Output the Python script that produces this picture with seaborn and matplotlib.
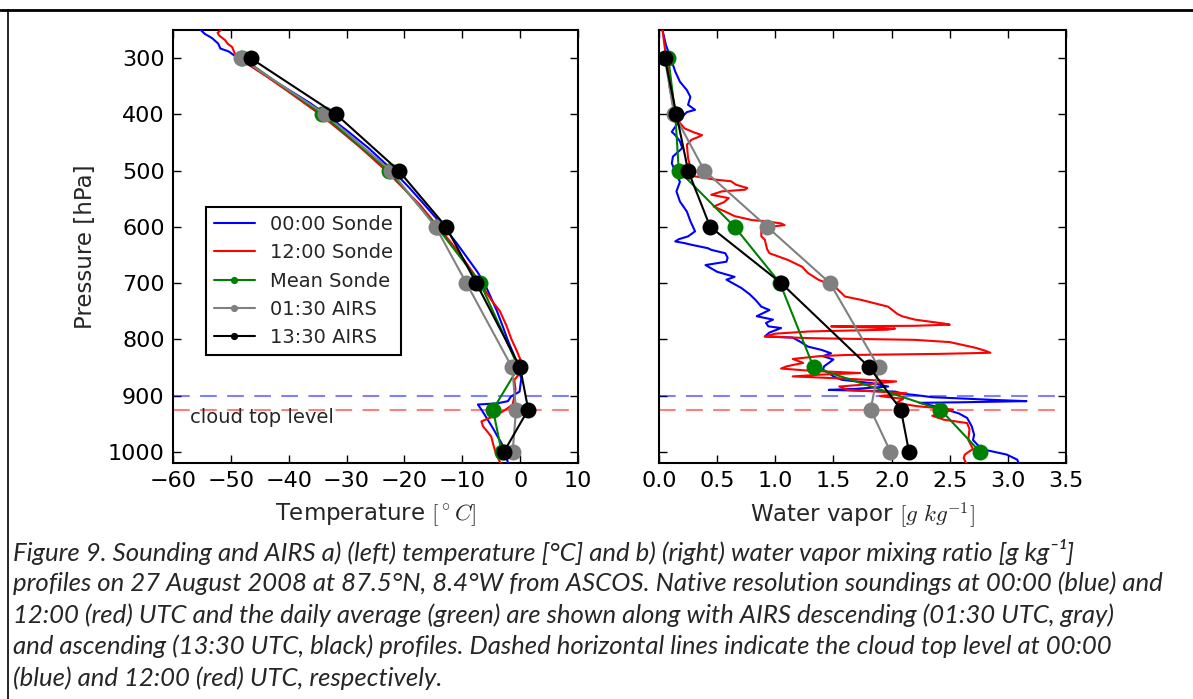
import numpy as np
import pandas as pd
import matplotlib
matplotlib.use("Agg")
import matplotlib.pyplot as plt
import seaborn as sns
from matplotlib.lines import Line2D

# ---------------- data ----------------
airs_p = [300, 400, 500, 600, 700, 850, 925, 1000]
# temperature [deg C]
t_mean = [-48.0, -34.2, -22.7, -14.4, -6.9, -0.3, -4.7, -3.2]
t_airs0130 = [-48.3, -33.7, -22.4, -14.6, -9.3, -1.4, -0.7, -1.3]
t_airs1330 = [-46.6, -31.8, -21.0, -12.8, -7.6, 0.0, 1.4, -2.8]
# water vapor [g/kg]
q_mean = [0.08, 0.14, 0.17, 0.65, 1.04, 1.33, 2.42, 2.76]
q_airs0130 = [0.05, 0.13, 0.39, 0.93, 1.47, 1.89, 1.82, 1.99]
q_airs1330 = [0.05, 0.15, 0.25, 0.44, 1.05, 1.81, 2.08, 2.15]

# sonde temperature profiles (pressure, temperature)
t00_p = [250, 257, 264, 274, 283, 288, 296, 300, 320, 350, 380, 400, 430, 460, 500,
         530, 560, 600, 630, 650, 680, 700, 720, 750, 780, 800, 830, 850, 870, 885,
         893, 902, 910, 914, 916, 925, 943, 960, 973, 985, 996, 1020]
t00_t = [-55.2, -54.5, -53.3, -52.2, -51.8, -50.4, -49.3, -48.6, -45.6, -41.0, -36.3,
         -33.6, -29.8, -26.2, -22.0, -19.2, -16.6, -13.2, -10.9, -9.5, -7.4, -6.2,
         -5.3, -4.0, -2.9, -2.2, -1.0, -0.4, 0.2, 0.0, -0.1, -1.6, -2.1, -4.0, -7.3,
         -6.7, -5.6, -4.6, -3.9, -3.2, -2.7, -2.1]
t12_p = [250, 255, 260, 268, 275, 280, 292, 300, 330, 360, 400, 430, 460, 500, 530,
         560, 600, 630, 660, 700, 730, 750, 775, 800, 820, 845, 860, 872, 890, 902,
         916, 925, 934, 946, 955, 965, 973, 985, 996, 1008, 1020]
t12_t = [-51.7, -52.3, -52.0, -51.0, -50.5, -49.8, -49.3, -48.7, -44.2, -40.0, -34.6,
         -31.0, -27.5, -23.2, -20.3, -17.4, -14.2, -11.8, -9.6, -6.9, -5.0, -3.5,
         -2.4, -1.5, -0.6, 0.4, 0.0, -1.0, -0.8, -1.0, -1.3, -2.5, -3.9, -6.7, -6.4,
         -5.6, -5.0, -4.7, -4.4, -4.0, -3.4]

# sonde water vapor profiles (pressure, mixing ratio)
q00_p = [250, 277, 288, 306, 324, 342, 357, 369, 383, 392, 396, 404, 419, 431, 437,
         448, 460, 475, 487, 502, 520, 537, 555, 573, 590, 608, 614, 617, 622, 626,
         629, 632, 638, 641, 647, 655, 662, 668, 674, 680, 689, 694, 709, 720, 730,
         742, 748, 759, 765, 771, 777, 780, 788, 795, 797, 805, 813, 819, 825, 830,
         836, 842, 848, 854, 860, 866, 872, 878, 884, 888, 890, 893, 897, 899, 903,
         908, 910, 912, 913, 918, 925, 932, 940, 955, 970, 979, 990, 996, 1005,
         1014, 1023]
q00_q = [0.03, 0.06, 0.08, 0.11, 0.14, 0.18, 0.24, 0.27, 0.25, 0.31, 0.24, 0.20,
         0.15, 0.11, 0.14, 0.18, 0.20, 0.12, 0.11, 0.14, 0.18, 0.15, 0.18, 0.24,
         0.27, 0.31, 0.27, 0.25, 0.17, 0.14, 0.22, 0.28, 0.42, 0.45, 0.57, 0.59,
         0.58, 0.40, 0.45, 0.50, 0.65, 0.58, 0.71, 0.78, 0.83, 0.88, 0.95, 0.84,
         0.98, 0.92, 0.94, 1.05, 0.95, 0.91, 1.15, 1.22, 1.28, 1.40, 1.48, 1.41,
         1.50, 1.46, 1.42, 1.41, 1.46, 1.50, 1.57, 1.83, 1.97, 1.70, 1.46, 2.03,
         2.10, 2.20, 2.35, 2.90, 3.16, 2.60, 2.24, 2.35, 2.47, 2.58, 2.65, 2.69,
         2.71, 2.70, 2.75, 2.79, 2.99, 3.08, 3.10]
q12_p = [250, 282, 320, 350, 383, 413, 425, 432, 437, 441, 445, 454, 478, 502, 510,
         516, 519, 525, 531, 534, 537, 543, 549, 556, 564, 573, 581, 588, 590, 594,
         597, 600, 606, 617, 623, 640, 647, 659, 671, 682, 694, 706, 718, 724, 730,
         742, 755, 759, 765, 772, 774, 776, 777, 779, 781, 783, 786, 790, 795, 798,
         801, 805, 815, 820, 824, 826, 828, 830, 835, 842, 848, 852, 856, 860, 863,
         866, 870, 875, 880, 884, 890, 896, 901, 906, 913, 919, 925, 930, 936, 943,
         949, 960, 979, 995, 1005, 1011, 1020]
q12_q = [0.03, 0.05, 0.08, 0.09, 0.12, 0.17, 0.22, 0.30, 0.37, 0.33, 0.28, 0.24,
         0.25, 0.28, 0.30, 0.48, 0.62, 0.66, 0.76, 0.74, 0.54, 0.45, 0.60, 0.56,
         0.47, 0.57, 0.65, 0.80, 0.91, 1.05, 1.08, 0.95, 0.88, 0.88, 0.91, 0.93,
         0.95, 1.11, 1.23, 1.28, 1.37, 1.51, 1.57, 1.60, 1.74, 1.97, 2.05, 2.09,
         2.20, 2.45, 2.50, 2.20, 1.48, 1.80, 2.03, 1.96, 1.30, 1.00, 0.91, 1.30,
         2.20, 2.50, 2.72, 2.80, 2.85, 2.40, 1.60, 1.38, 1.15, 1.24, 1.10, 1.05,
         1.30, 1.73, 1.38, 1.15, 1.60, 2.04, 1.80, 1.55, 1.62, 2.13, 1.90, 2.10,
         2.04, 2.22, 2.53, 2.45, 2.35, 2.45, 2.65, 2.67, 2.66, 2.70, 2.63, 2.62,
         2.64]

cloud_top_00 = 900
cloud_top_12 = 925

t_ticks = [-60, -50, -40, -30, -20, -10, 0, 10]
q_ticks = [0.0, 0.5, 1.0, 1.5, 2.0, 2.5, 3.0, 3.5]
p_ticks = [300, 400, 500, 600, 700, 800, 900, 1000]

series_labels = ["00:00 Sonde", "12:00 Sonde", "Mean Sonde", "01:30 AIRS", "13:30 AIRS"]

caption_lines = [
    "Figure 9. Sounding and AIRS a) (left) temperature [°C] and b) (right) water vapor mixing ratio [g kg\u207b\u00b9]",
    "profiles on 27 August 2008 at 87.5°N, 8.4°W from ASCOS. Native resolution soundings at 00:00 (blue) and",
    "12:00 (red) UTC and the daily average (green) are shown along with AIRS descending (01:30 UTC, gray)",
    "and ascending (13:30 UTC, black) profiles. Dashed horizontal lines indicate the cloud top level at 00:00",
    "(blue) and 12:00 (red) UTC, respectively.",
]

# ---------------- style ----------------
sns.set_style("white")
TICK_FS = 16
LABEL_FS = 16.5
plt.rcParams.update({
    "font.family": ["DejaVu Sans"],
    "mathtext.fontset": "cm",
    "axes.edgecolor": "black",
    "axes.linewidth": 1.5,
    "xtick.direction": "in",
    "ytick.direction": "in",
    "xtick.top": True,
    "ytick.right": True,
    "xtick.bottom": True,
    "ytick.left": True,
    "xtick.major.size": 6,
    "ytick.major.size": 6,
    "xtick.major.width": 1.0,
    "ytick.major.width": 1.0,
    "xtick.color": "black",
    "ytick.color": "black",
    "xtick.major.pad": 6,
    "ytick.major.pad": 6,
    "font.size": TICK_FS,
})

W, H = 1193, 699
fig = plt.figure(figsize=(W / 100, H / 100), dpi=100)
fig.patch.set_facecolor("white")
ax1 = fig.add_axes([173 / W, 1 - 463 / H, 405 / W, 433 / H])
ax2 = fig.add_axes([659 / W, 1 - 463 / H, 407 / W, 433 / H])

LW = 1.5
MS = 11.5

def sonde(ax, x, y, color, label=None):
    df = pd.DataFrame({"x": x, "y": y})
    sns.lineplot(data=df, x="x", y="y", sort=False, estimator=None, color=color,
                 lw=LW, ax=ax, label=label, zorder=3)

def airs(ax, x, color, label=None):
    df = pd.DataFrame({"x": x, "y": airs_p})
    sns.lineplot(data=df, x="x", y="y", sort=False, estimator=None, color=color,
                 lw=LW, marker="o", markersize=MS, markeredgecolor=color,
                 markeredgewidth=0, ax=ax, label=label, zorder=4)

for ax in (ax1, ax2):
    ax.axhline(cloud_top_00, color="blue", ls="--", lw=1.5, alpha=0.5, dashes=(8, 5), zorder=2)
    ax.axhline(cloud_top_12, color="red", ls="--", lw=1.5, alpha=0.5, dashes=(8, 5), zorder=2)

# left panel: temperature
sonde(ax1, t00_t, t00_p, "blue", series_labels[0])
sonde(ax1, t12_t, t12_p, "red", series_labels[1])
airs(ax1, t_mean, "green", series_labels[2])
airs(ax1, t_airs0130, "gray", series_labels[3])
airs(ax1, t_airs1330, "black", series_labels[4])

# right panel: water vapor
sonde(ax2, q00_q, q00_p, "blue")
sonde(ax2, q12_q, q12_p, "red")
airs(ax2, q_mean, "green")
airs(ax2, q_airs0130, "gray")
airs(ax2, q_airs1330, "black")

for ax in (ax1, ax2):
    ax.set_ylim(1020, 250)
    ax.set_yticks(p_ticks)
    ax.tick_params(axis="both", which="both", direction="in", top=True, right=True,
                   labelsize=TICK_FS, length=6)
    for s in ax.spines.values():
        s.set_color("black")
        s.set_linewidth(1.5)

ax1.set_xlim(-60, 10)
ax1.set_xticks(t_ticks)
ax2.set_xlim(0, 3.5)
ax2.set_xticks(q_ticks)
ax2.set_xticklabels([f"{v:.1f}" for v in q_ticks])
ax2.set_yticklabels([])

ax1.set_xlabel(r"Temperature $[^\circ C]$", fontsize=LABEL_FS)
ax2.set_xlabel(r"Water vapor $[g\ kg^{-1}]$", fontsize=LABEL_FS)
ax1.set_ylabel("Pressure [hPa]", fontsize=LABEL_FS)
ax2.set_ylabel("")
ax1.xaxis.set_label_coords(0.5, -0.088)
ax2.xaxis.set_label_coords(0.5, -0.088)
ax1.yaxis.set_label_coords(-0.188, 0.5)

ax1.text(0.042, 0.104, "cloud top level", transform=ax1.transAxes, fontsize=14,
         va="center", ha="left")

leg = ax1.legend(loc="upper left", bbox_to_anchor=(0.081, 0.591), borderaxespad=0,
                 fontsize=14, frameon=True, fancybox=False, framealpha=1,
                 edgecolor="black", markerscale=0.45, handlelength=2.15,
                 handletextpad=0.75, labelspacing=0.48, borderpad=0.4)
leg.get_frame().set_linewidth(1.5)
if ax2.get_legend() is not None:
    ax2.get_legend().remove()

# frame of the document box
fig.add_artist(Line2D([0, 1], [1 - 10 / H, 1 - 10 / H], transform=fig.transFigure,
                      color="black", lw=2.0))
fig.add_artist(Line2D([8 / W, 8 / W], [0, 1 - 10 / H], transform=fig.transFigure,
                      color="black", lw=1.2))

# caption: one font size, fitted so the widest line spans the reference width
renderer = fig.canvas.get_renderer()
cap_family = ["Lato", "DejaVu Sans"]
cap_x = 13
max_right = 1168
widest = 0.0
for line in caption_lines:
    probe = fig.text(cap_x / W, 0.5, line, fontsize=16, style="italic", family=cap_family)
    widest = max(widest, probe.get_window_extent(renderer).width)
    probe.remove()
cap_fs = 16 * ((max_right - cap_x) / widest)
y0 = 552
dy = 31.5
for i, line in enumerate(caption_lines):
    fig.text(cap_x / W, 1 - (y0 + dy * i) / H, line, fontsize=cap_fs, style="italic",
             family=cap_family, va="center", ha="left")

fig.savefig("out.png", dpi=100, facecolor="white")
